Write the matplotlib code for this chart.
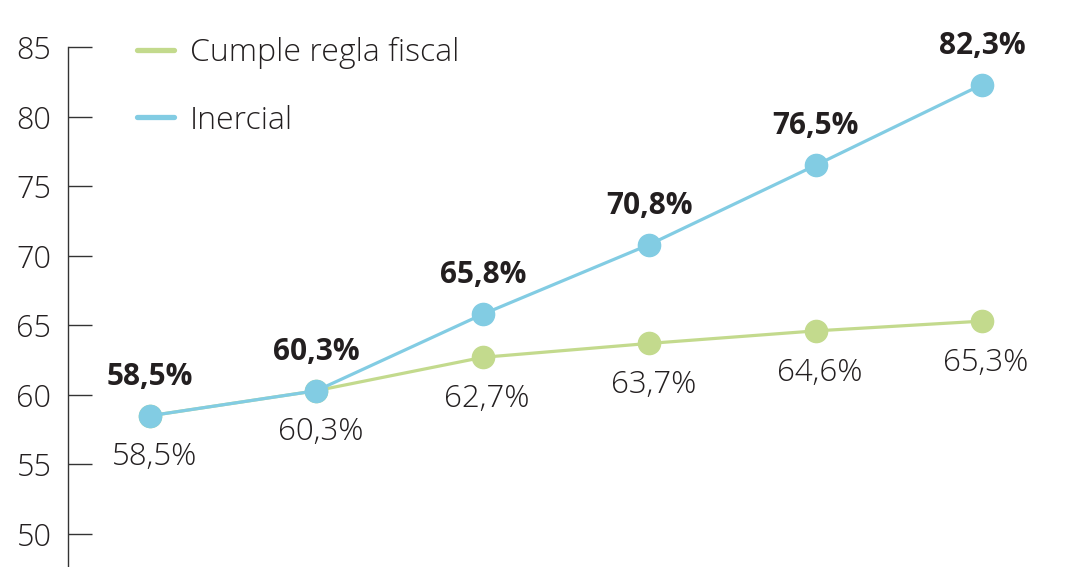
import matplotlib
matplotlib.use("Agg")
import matplotlib.pyplot as plt
from matplotlib.lines import Line2D

# ---------------- data ----------------
periods = [0, 1, 2, 3, 4, 5]
cumple = [58.5, 60.3, 62.7, 63.7, 64.6, 65.3]
inercial = [58.5, 60.3, 65.8, 70.8, 76.5, 82.3]
cumple_labels = ["58,5%", "60,3%", "62,7%", "63,7%", "64,6%", "65,3%"]
inercial_labels = ["58,5%", "60,3%", "65,8%", "70,8%", "76,5%", "82,3%"]
yticks = [50, 55, 60, 65, 70, 75, 80, 85]
series_names = ["Cumple regla fiscal", "Inercial"]

green = "#c3da8d"
blue = "#82cce3"
txt = "#231f20"
font = "Open Sans"

plt.rcParams['font.family'] = [font, 'DejaVu Sans']

fig = plt.figure(figsize=(10.8, 5.67), dpi=100)
ax = fig.add_axes([68 / 1080, 0, 1 - 68 / 1080, 1])

ax.plot(periods, cumple, color=green, linewidth=2.3, marker='o', markersize=16, zorder=2)
ax.plot(periods, inercial, color=blue, linewidth=2.3, marker='o', markersize=16, zorder=3)

# labels
for x, y, lab in zip(periods, inercial, inercial_labels):
    ax.annotate(lab, (x, y), xytext=(0, 28), textcoords='offset points',
                ha='center', va='center', fontsize=21.5, fontweight='bold', color=txt)
for x, y, lab in zip(periods, cumple, cumple_labels):
    ax.annotate(lab, (x, y), xytext=(3, -30), textcoords='offset points',
                ha='center', va='center', fontsize=22.5, fontweight='light', color=txt)

ax.set_xlim(-0.493, 5.589)
ax.set_ylim(47.63, 88.38)
ax.set_yticks(yticks)
ax.set_xticks([])
for s in ['top', 'right', 'bottom']:
    ax.spines[s].set_visible(False)
ax.spines['left'].set_bounds(47.63, 85)
ax.spines['left'].set_color('#333333')
ax.spines['left'].set_linewidth(1)
ax.tick_params(axis='y', direction='in', length=17, width=1, color='#333333',
               pad=12, labelsize=22, labelcolor=txt)
for t in ax.get_yticklabels():
    t.set_fontweight('light')

handles = [Line2D([], [], color=green, linewidth=3.8, solid_capstyle='round'),
           Line2D([], [], color=blue, linewidth=3.8, solid_capstyle='round')]
leg = ax.legend(handles, series_names, loc='upper left', bbox_to_anchor=(0.040, 0.986),
                frameon=False, fontsize=23, handlelength=1.15, handletextpad=0.5,
                labelspacing=1.12, borderpad=0.4)
for t in leg.get_texts():
    t.set_fontweight('light')
    t.set_color(txt)

fig.savefig("out.png", dpi=100)
